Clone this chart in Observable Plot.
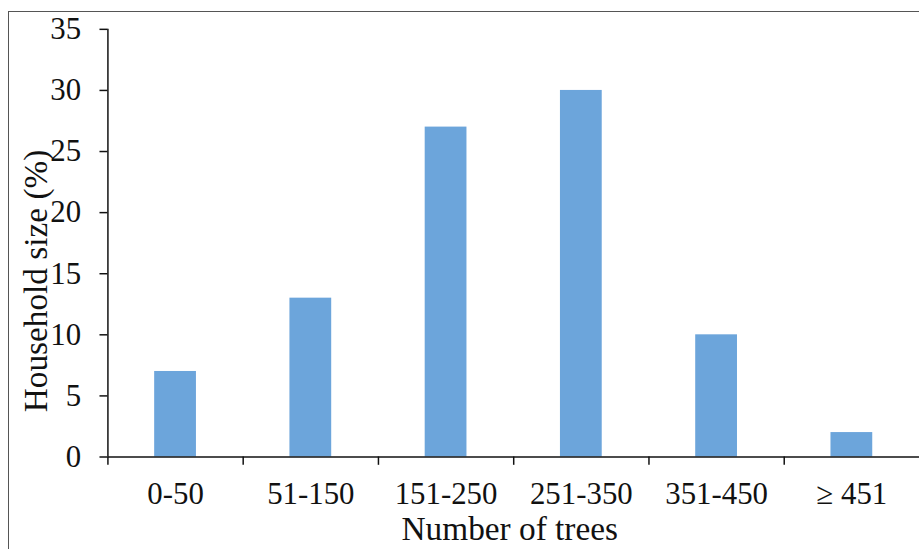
<!DOCTYPE html>
<html>
<head>
<meta charset="utf-8">
<script src="https://cdn.jsdelivr.net/npm/d3@7"></script>
<script src="https://cdn.jsdelivr.net/npm/@observablehq/plot@0.6"></script>
<style>
  html, body { margin: 0; padding: 0; background: #fff; overflow: hidden; }
  #wrap { position: relative; width: 919px; height: 549px; overflow: hidden; }
  #frame { position: absolute; left: 8px; top: 11px; right: -10px; bottom: -10px;
           border-top: 1.5px solid #555; border-left: 1.5px solid #555; pointer-events: none; }
  svg, svg text, svg g { font-family: "Liberation Serif", "Times New Roman", serif !important; }
</style>
</head>
<body>
<div id="wrap"><div id="frame"></div></div>
<script>
const categories = ["0-50", "51-150", "151-250", "251-350", "351-450", "\u2265 451"];
const shares = [7, 13, 27, 30, 10, 2];
const yTicks = [0, 5, 10, 15, 20, 25, 30, 35];
const xTitle = "Number of trees";
const yTitle = "Household size (%)";

const data = categories.map((c, i) => ({category: c, value: shares[i]}));

const W = 924, H = 549, ML = 108, MT = 29, MB = 90, MR = 0;
const half = (W - ML - MR) / categories.length / 2;

const chart = Plot.plot({
  width: W,
  height: H,
  marginLeft: ML,
  marginTop: MT,
  marginBottom: MB,
  marginRight: MR,
  style: {background: "transparent", overflow: "visible"},
  x: {domain: categories, paddingInner: 0.69, paddingOuter: 0.345},
  y: {domain: [0, 35]},
  marks: [
    Plot.barY(data, {x: "category", y: "value", fill: "#6ca5db"}),
    Plot.ruleX(categories, {x: d => d, dx: -half, y1: 0, y2: -0.68, stroke: "#111", strokeWidth: 1.5}),
    Plot.ruleY([0], {stroke: "#111", strokeWidth: 1.5}),
    Plot.ruleX([categories[0]], {x: d => d, dx: -half, y1: 0, y2: 35, stroke: "#111", strokeWidth: 1.5}),
    Plot.axisY({ticks: yTicks, tickSize: 8, tickPadding: 19, fontSize: 31, label: null, stroke: "#111", strokeWidth: 1.5, fill: "#111"}),
    Plot.axisX({tickSize: 0, tickPadding: 25, fontSize: 31, label: null, fill: "#111"}),
    Plot.text([xTitle], {frameAnchor: "bottom", dy: 83, dx: -4, fontSize: 33.5, fill: "#111", lineAnchor: "bottom"}),
    Plot.text([yTitle], {frameAnchor: "left", dx: -72, dy: 38, rotate: -90, fontSize: 33.5, fill: "#111", textAnchor: "middle", lineAnchor: "middle"})
  ]
});
document.getElementById("wrap").insertBefore(chart, document.getElementById("frame"));
</script>
</body>
</html>
